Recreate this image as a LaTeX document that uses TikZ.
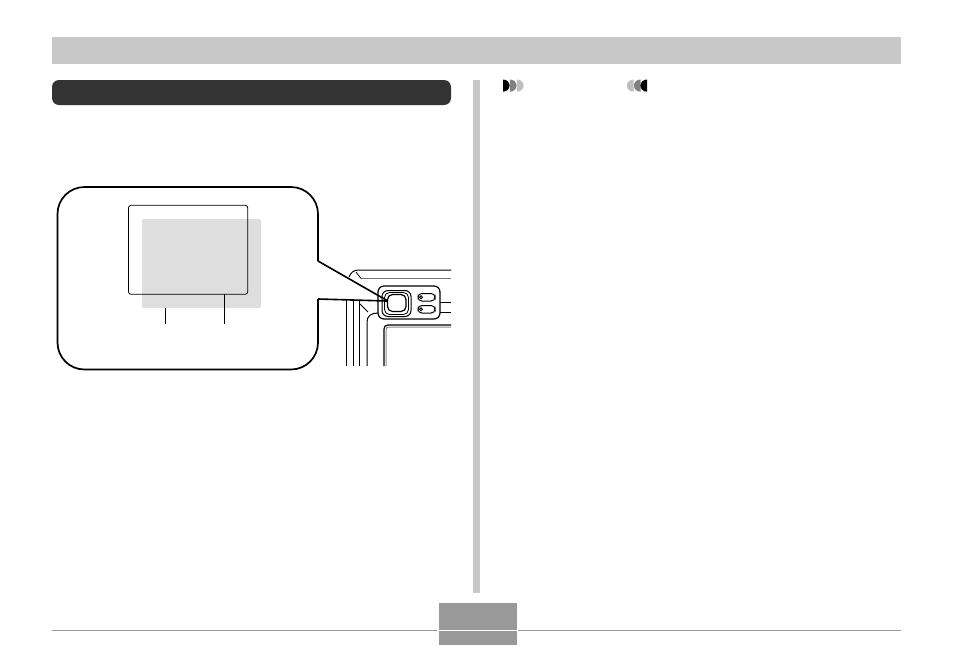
\documentclass[tikz,border=0pt]{standalone}
\definecolor{bandgray}{HTML}{C8C8C8}
\definecolor{pilldark}{HTML}{333333}
\definecolor{shiftgray}{HTML}{DEDEDE}
\definecolor{pagegray}{HTML}{999999}
\tikzset{
	balloon/.style={line width=1.7pt,rounded corners=27pt},
	cam/.style={line width=1pt},
	camthin/.style={line width=0.8pt}
}
\begin{document}
\begin{tikzpicture}[x=1pt,y=-1pt]
		\useasboundingbox (0,0) rectangle (954,646);
		% page furniture
		\fill[bandgray] (52,37) rectangle (901,64);
		\fill[pilldark,rounded corners=7pt] (52,80) rectangle (451,105);
		\fill[bandgray] (473,80) rectangle (480,593);
		\draw[pagegray,line width=0.9pt] (52,630) -- (437,630);
		\draw[pagegray,line width=0.9pt] (518,630) -- (901,630);
		\fill[pagegray] (439,603) rectangle (517,629.5);
		\fill[pagegray] (439,631) rectangle (517,645);
		% half discs over the right column
		\foreach \x/\c in {503/black,510/black!50,517/black!25}
			\fill[\c] (\x,79.5) arc[start angle=-90,end angle=90,x radius=6.6,y radius=6.1];
		\foreach \x/\c in {633.5/black!25,640.5/black!50,647/black}
			\fill[\c] (\x,79.5) arc[start angle=-90,end angle=-270,x radius=6.6,y radius=6.1];
		% camera back
		\draw[cam] (349,277) .. controls (351,272) and (354,270) .. (359,270) -- (451,270);
		\draw[black!55,cam] (361,278.5) -- (451,278.5);
		\draw[camthin] (356,272) -- (361,278.5);
		\foreach \x in {346,353,359}
			\draw[cam] (\x,300) -- (\x,366);
		\draw[cam] (367,366) -- (367,322) .. controls (367,316) and (371,313) .. (378,313);
		\draw[camthin] (360,304) -- (368,312);
		\draw[line width=1.2pt] (384,366) -- (384,329) .. controls (384,326.5) and (385.5,325) .. (388,325) -- (451,325);
		\draw[black!45,cam] (386,366) -- (386,330) .. controls (386,328) and (387,327) .. (389,327) -- (451,327);
		% key panel
		\draw[line width=1.2pt,rounded corners=6pt] (378,286) rectangle (440,319);
		\draw[cam] (440,302) -- (451,302);
		\draw[cam] (440,312) -- (451,312);
		\draw[cam,rounded corners=6pt] (382,290.5) rectangle (411,316.5);
		\draw[camthin,rounded corners=5pt] (384.5,292.5) rectangle (408.5,314.5);
		\draw[line width=1.2pt,rounded corners=5pt] (387.5,294.5) rectangle (406,311.5);
		\draw[cam,rounded corners=3.8pt] (418,293.5) rectangle (435,301);
		\draw[cam,rounded corners=3.8pt] (418,305.5) rectangle (435,313);
		\draw[camthin] (421,297.2) circle (1.5);
		\draw[camthin] (421,309.2) circle (1.5);
		% finder view
		\fill[shiftgray,rounded corners=2pt] (142,219) rectangle (261,308);
		\draw[line width=0.8pt,rounded corners=2.5pt] (128.5,205.3) rectangle (247.7,294.3);
		\draw[line width=0.9pt] (165.4,308) -- (165.4,323.5);
		\draw[line width=0.9pt] (224.4,294.3) -- (224.4,323.5);
		% balloon
		\draw[balloon] (318,261) -- (318,187) -- (57.5,187) -- (57.5,369.5) -- (318,369.5) -- (318,299);
		\draw[line width=1.6pt] (318,261) -- (387,300.5);
		\draw[line width=1.6pt] (318,299) -- (387,301);
		\end{tikzpicture}
\end{document}
